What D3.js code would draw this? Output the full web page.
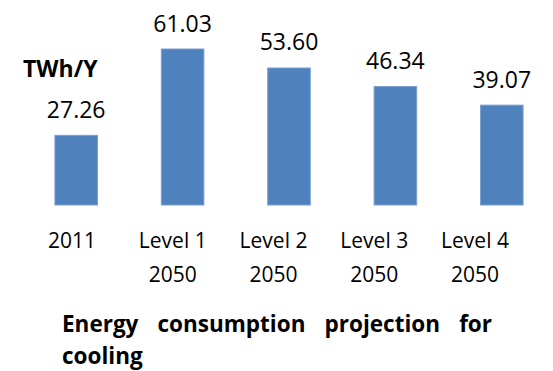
<!DOCTYPE html>
<html>
<head>
<meta charset="utf-8">
<script src="https://cdn.jsdelivr.net/npm/d3@7"></script>
<style>
  body { margin: 0; background: #fff; }
  text { font-family: "Open Sans", sans-serif; fill: #000; }
</style>
</head>
<body>
<script>
// chart data
var categories = ["2011", "Level 1 2050", "Level 2 2050", "Level 3 2050", "Level 4 2050"];
var labelLines = [["2011"], ["Level 1", "2050"], ["Level 2", "2050"], ["Level 3", "2050"], ["Level 4", "2050"]];
var values = [27.26, 61.03, 53.60, 46.34, 39.07];
var unitLabel = "TWh/Y";
var titleLines = ["Energy consumption projection for", "cooling"];

var width = 553, height = 371;
var baseline = 205;

var svg = d3.select("body").append("svg")
    .attr("width", width)
    .attr("height", height);

// set the ranges
var x = d3.scaleBand()
    .domain(categories)
    .range([23, 555])
    .paddingInner(0.6)
    .paddingOuter(0.3);

var y = d3.scaleLinear()
    .domain([0, 70])
    .range([baseline, baseline - 70 * 2.556]);

// labels under the bars sit on a slightly tighter spacing
var xLab = d3.scalePoint()
    .domain(categories)
    .range([72, 475]);

svg.selectAll(".bar")
    .data(values)
    .enter().append("rect")
    .attr("class", "bar")
    .attr("x", function(d, i) { return x(categories[i]); })
    .attr("y", function(d) { return y(d); })
    .attr("width", x.bandwidth())
    .attr("height", function(d) { return y(0) - y(d); })
    .attr("fill", "#4f81bd")
    .attr("stroke", "#7c9fcf")
    .attr("stroke-width", 1);

// value labels
svg.selectAll(".val")
    .data(values)
    .enter().append("text")
    .attr("class", "val")
    .attr("x", function(d, i) { return x(categories[i]) + x.bandwidth() / 2; })
    .attr("y", function(d) { return y(d) - 17.5; })
    .attr("text-anchor", "middle")
    .style("font-size", "23px")
    .text(function(d) { return d.toFixed(2); });

// category labels
var cat = svg.selectAll(".cat")
    .data(labelLines)
    .enter().append("text")
    .attr("class", "cat")
    .attr("text-anchor", "middle")
    .style("font-size", "21px")
    .attr("transform", function(d, i) { return "translate(" + xLab(categories[i]) + ",248)"; });

cat.selectAll("tspan")
    .data(function(d) { return d; })
    .enter().append("tspan")
    .attr("x", 0)
    .attr("dy", function(d, i) { return i === 0 ? 0 : 34; })
    .text(function(d) { return d; });

// unit
svg.append("text")
    .attr("x", 23)
    .attr("y", 76.5)
    .style("font-size", "23px")
    .style("font-weight", "bold")
    .text(unitLabel);

// title, first line justified between 62 and 492
var left = 62, right = 492;
var words = titleLines[0].split(" ");
var wordNodes = svg.selectAll(".tw")
    .data(words)
    .enter().append("text")
    .attr("class", "tw")
    .attr("y", 332)
    .style("font-size", "22.5px")
    .style("font-weight", "bold")
    .text(function(d) { return d; });

var widths = wordNodes.nodes().map(function(n) { return n.getComputedTextLength(); });
var gap = (right - left - d3.sum(widths)) / (words.length - 1);
var pos = left;
wordNodes.attr("x", function(d, i) {
    var p = pos;
    pos += widths[i] + gap;
    return p;
});

svg.append("text")
    .attr("x", left)
    .attr("y", 363.5)
    .style("font-size", "22.5px")
    .style("font-weight", "bold")
    .text(titleLines[1]);
</script>
</body>
</html>
